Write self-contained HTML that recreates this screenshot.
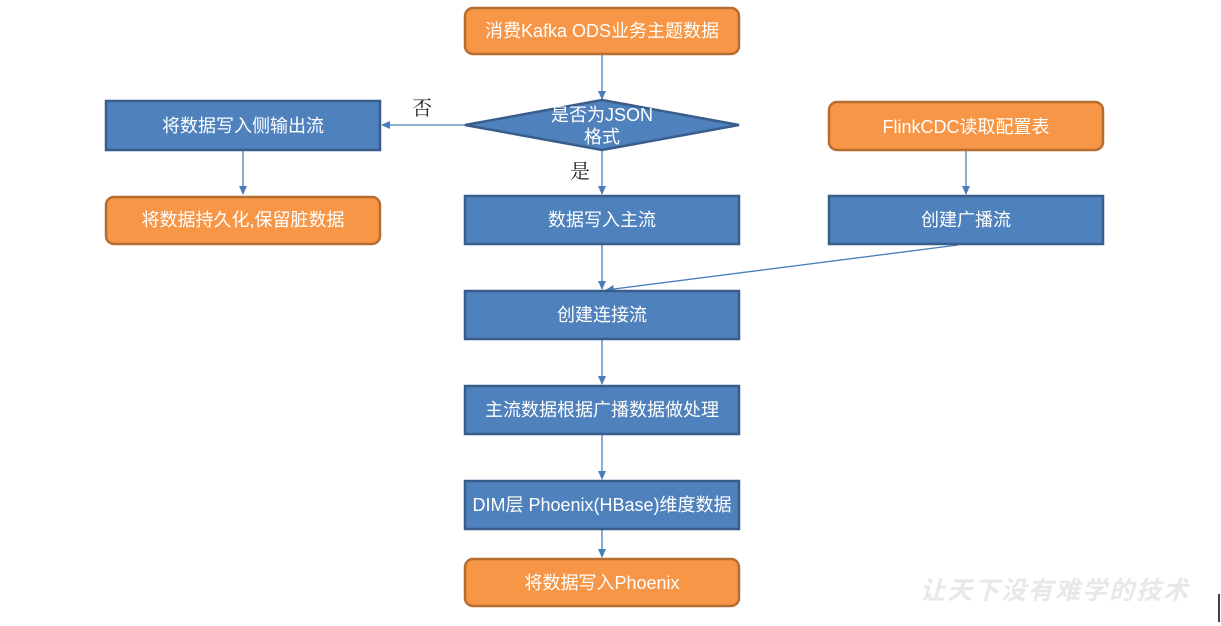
<!DOCTYPE html>
<html><head><meta charset="utf-8"><style>
body{margin:0;background:#fff;}
svg{display:block;font-family:"Liberation Sans","Noto Sans CJK SC",sans-serif;}
</style></head><body>
<svg width="1221" height="626" viewBox="0 0 1221 626" xmlns="http://www.w3.org/2000/svg">
<defs>
<marker id="a" markerWidth="10" markerHeight="10" refX="8" refY="5" orient="auto" markerUnits="userSpaceOnUse">
<path d="M0,1 L9,5 L0,9 z" fill="#4A7EBB"/></marker>
</defs>
<g stroke="#4A7EBB" stroke-width="1.3" fill="none" marker-end="url(#a)">
<line x1="602" y1="55" x2="602" y2="99"/>
<line x1="465" y1="125" x2="382" y2="125"/>
<line x1="602" y1="151" x2="602" y2="194"/>
<line x1="243" y1="151" x2="243" y2="194"/>
<line x1="966" y1="151" x2="966" y2="194"/>
<line x1="602" y1="245" x2="602" y2="289"/>
<line x1="958" y1="245" x2="606" y2="290"/>
<line x1="602" y1="340" x2="602" y2="384"/>
<line x1="602" y1="435" x2="602" y2="479"/>
<line x1="602" y1="530" x2="602" y2="557"/>
</g>
<g stroke-width="2.5">
<rect x="465" y="8" width="274" height="46" rx="8" fill="#F79646" stroke="#B66D31"/>
<rect x="829" y="102" width="274" height="48" rx="8" fill="#F79646" stroke="#B66D31"/>
<rect x="106" y="197" width="274" height="47" rx="8" fill="#F79646" stroke="#B66D31"/>
<rect x="465" y="559" width="274" height="47" rx="8" fill="#F79646" stroke="#B66D31"/>
<rect x="106" y="101" width="274" height="49" fill="#4F81BD" stroke="#385D8A"/>
<rect x="465" y="196" width="274" height="48" fill="#4F81BD" stroke="#385D8A"/>
<rect x="829" y="196" width="274" height="48" fill="#4F81BD" stroke="#385D8A"/>
<rect x="465" y="291" width="274" height="48" fill="#4F81BD" stroke="#385D8A"/>
<rect x="465" y="386" width="274" height="48" fill="#4F81BD" stroke="#385D8A"/>
<rect x="465" y="481" width="274" height="48" fill="#4F81BD" stroke="#385D8A"/>
<polygon points="465,125 602,100 739,125 602,150" fill="#4F81BD" stroke="#385D8A"/>
</g>
<g fill="#fff" font-size="18" text-anchor="middle">
<text x="602" y="37">消费Kafka ODS业务主题数据</text>
<text x="602" y="121">是否为JSON</text>
<text x="602" y="143">格式</text>
<text x="243" y="132">将数据写入侧输出流</text>
<text x="243" y="226">将数据持久化,保留脏数据</text>
<text x="966" y="133">FlinkCDC读取配置表</text>
<text x="602" y="226">数据写入主流</text>
<text x="966" y="226">创建广播流</text>
<text x="602" y="321">创建连接流</text>
<text x="602" y="416">主流数据根据广播数据做处理</text>
<text x="602" y="511">DIM层 Phoenix(HBase)维度数据</text>
<text x="602" y="589">将数据写入Phoenix</text>
</g>
<g fill="#222" font-size="20" font-family="'Noto Serif CJK SC',serif" text-anchor="middle">
<text x="422" y="115">否</text>
<text x="580" y="178">是</text>
</g>
<text x="1055" y="599" fill="#e8e8e8" font-size="25" text-anchor="middle" font-style="italic" font-weight="bold" letter-spacing="2">让天下没有难学的技术</text>
<line x1="1219" y1="594" x2="1219" y2="622" stroke="#000" stroke-width="1.5"/>
</svg>
</body></html>
